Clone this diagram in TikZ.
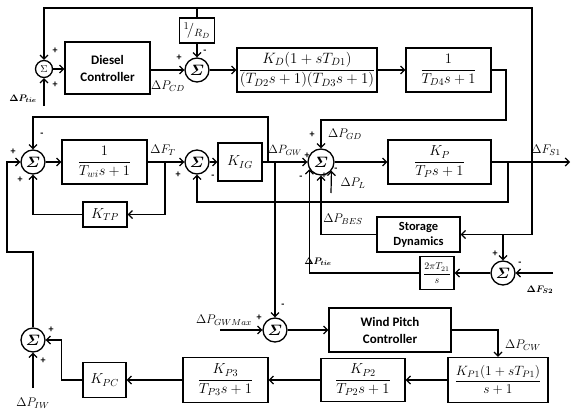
\RequirePackage{fix-cm}
\documentclass[tikz,border=0pt]{standalone}
\usepackage{amsmath,bm}
\usepackage{fontspec}
\newfontfamily\calib{Carlito}
\usetikzlibrary{arrows.meta,calc}
\begin{document}
\begin{tikzpicture}[x=1pt,y=-1pt,
  line width=1.2pt,
  >={Straight Barb[length=4pt,width=8pt]},
  blk/.style={draw, rectangle, inner sep=0pt, line width=1.3pt, font=\fontsize{14.5}{16}\selectfont},
  sumc/.style={draw, circle, inner sep=0pt, minimum size=24pt, line width=1.3pt, font=\fontsize{15}{17}\selectfont},
  sgn/.style={inner sep=0pt, font=\calib\bfseries\fontsize{10}{11}\selectfont},
  lbl/.style={inner sep=0pt, font=\fontsize{12.5}{15}\selectfont},
  blbl/.style={inner sep=0pt, font=\fontsize{9.5}{10}\selectfont},
  bt/.style={font=\calib\bfseries\fontsize{13}{17}\selectfont, align=center},
]
\useasboundingbox (0,0) rectangle (572,412);

% ---- row 1
\node[sumc, minimum size=17pt, font=\fontsize{10}{11}\selectfont] (s1) at (44,69) {$\Sigma$};
\node[blk, bt, minimum width=85pt, minimum height=52pt] (dc) at (107.5,68) {Diesel\\Controller};
\node[sumc] (s2) at (197,70) {$\boldsymbol{\varSigma}$};
\node[blk, minimum width=35pt, minimum height=25pt, font=\fontsize{15}{17}\selectfont] (rd) at (197,30.5) {${}^{1}\!/_{R_D}$};
\node[blk, minimum width=140pt, minimum height=44pt, font=\fontsize{15}{17}\selectfont] (kd) at (307,70) {$\dfrac{K_D(1+sT_{D1})}{(T_{D2}s+1)(T_{D3}s+1)}$};
\node[blk, minimum width=85pt, minimum height=44pt] (td4) at (448.5,70) {$\dfrac{1}{T_{D4}s+1}$};

% ---- row 2
\node[sumc] (s3) at (33,162) {$\boldsymbol{\varSigma}$};
\node[blk, minimum width=85pt, minimum height=44pt] (twi) at (104.5,162) {$\dfrac{1}{T_{wi}s+1}$};
\node[blk, minimum width=44pt, minimum height=25pt] (ktp) at (105,214.5) {$K_{TP}$};
\node[sumc] (s4) at (197,162) {$\boldsymbol{\varSigma}$};
\node[blk, minimum width=44pt, minimum height=38pt] (kig) at (240,162) {$K_{IG}$};
\node[sumc, minimum size=26pt] (sm) at (321,162) {$\boldsymbol{\varSigma}$};
\node[blk, minimum width=103pt, minimum height=44pt] (kp) at (439.5,162) {$\dfrac{K_P}{T_P s+1}$};
\node[blk, bt, minimum width=83pt, minimum height=35pt, font=\calib\bfseries\fontsize{12.5}{15}\selectfont] (stor) at (418.5,234.5) {Storage\\Dynamics};
\node[blk, minimum width=34pt, minimum height=33pt, font=\fontsize{10}{11}\selectfont] (tie) at (437,273) {$\dfrac{2\pi T_{21}}{s}$};
\node[sumc] (s7) at (503,273) {$\boldsymbol{\varSigma}$};

% ---- bottom
\node[sumc] (s6) at (275,330) {$\boldsymbol{\varSigma}$};
\node[blk, bt, minimum width=122pt, minimum height=44pt] (wpc) at (390,330) {Wind Pitch\\Controller};
\node[blk, minimum width=100pt, minimum height=45pt, font=\fontsize{13.5}{15}\selectfont] (kp1) at (498,380) {$\dfrac{K_{P1}(1+sT_{P1})}{s+1}$};
\node[blk, minimum width=84pt, minimum height=43pt] (kp2) at (363,380) {$\dfrac{K_{P2}}{T_{P2}s+1}$};
\node[blk, minimum width=85pt, minimum height=45pt] (kp3) at (225.5,380) {$\dfrac{K_{P3}}{T_{P3}s+1}$};
\node[blk, minimum width=43pt, minimum height=35pt] (kpc) at (104.5,380) {$K_{PC}$};
\node[sumc] (s5) at (33,340) {$\boldsymbol{\varSigma}$};

% ---- free ends
\coordinate (ptie1) at (44,106);
\coordinate (fs1) at (570,162);
\coordinate (pl) at (331,193);
\coordinate (fs2) at (553,273);
\coordinate (gwmax) at (220,330);
\coordinate (piw) at (33,388);

% ---- connectors row 1
\draw[->] (ptie1) -- (s1.south);
\draw[->] (s1.east) -- (s1.east -| dc.west);
\draw[->] (dc.east |- s2.west) -- (s2.west);
\draw[->] (rd.south) -- (s2.north);
\draw[->] (s2) -- (kd);
\draw[->] (kd) -- (td4);
\draw[->] (td4.east) -| (506,120) -| (sm.north);
\draw[->] (532,162) -- (532,8) -| (s1.north);
\draw (rd.north) -- (rd.north |- 0,8);

% ---- connectors row 2
\draw[->] (s5.north) -- (33,252) -- (7,252) |- (s3.west);
\draw[->] (s3) -- (twi);
\draw[->] (twi) -- (s4);
\draw[->] (165,162) |- (ktp.east);
\draw[->] (ktp.west) -| (s3.south);
\draw[->] (268,162) -- (268,117) -| (s3.north);
\draw[->] (s4) -- (kig);
\draw[->] (kig) -- (sm);
\draw[->] (275,162) -- (s6.north);
\draw[->] (sm) -- (kp);
\draw[->] (kp) -- (fs1);
\draw[->] (508,162) -- (508,202) -| (s4.south);
\draw[->] (532,162) |- (stor.east);
\draw[->] (503,234.5) -- (s7.north);
\draw[->] (stor.west) -| (sm.south);
\draw[->] (tie.west) -| (sm.212);
\draw[->] (pl) -- (sm.320);
\draw[->] (fs2) -- (s7.east);
\draw[->] (s7) -- (tie);

% ---- bottom connectors
\draw[->] (gwmax) -- (s6.west);
\draw[->] (s6) -- (wpc);
\draw[->] (wpc.east) -| (kp1.north);
\draw[->] (kp1) -- (kp2);
\draw[->] (kp2) -- (kp3);
\draw[->] (kp3) -- (kpc);
\draw[->] (kpc.west) -- ++(-21,0) |- (s5.east);
\draw[->] (piw) -- (s5.south);

% ---- signs
\node[sgn] at (55,51) {+};
\node[sgn] at (55,85) {+};
\node[sgn] at (179,58) {+};
\node[sgn] at (205,52) {-};
\node[sgn] at (13,152) {+};
\node[sgn] at (42,135) {-};
\node[sgn] at (20,180) {+};
\node[sgn] at (178,175) {+};
\node[sgn] at (213,177) {-};
\node[sgn] at (307,156) {+};
\node[sgn] at (312,135) {+};
\node[sgn] at (301,178) {-};
\node[sgn] at (324,176) {+};
\node[sgn] at (336,170) {-};
\node[sgn] at (495,254) {+};
\node[sgn] at (520,264) {-};
\node[sgn] at (259,318) {+};
\node[sgn] at (283,306) {-};
\node[sgn] at (51,330) {+};
\node[sgn] at (43,361) {+};

% ---- labels
\node[blbl] at (23,99) {$\bm{\Delta P_{tie}}$};
\node[lbl] at (168,86) {$\Delta P_{CD}$};
\node[lbl] at (163,150) {$\Delta F_{T}$};
\node[lbl, font=\fontsize{12}{14}\selectfont] at (285,150) {$\Delta P_{GW}$};
\node[lbl] at (345,134) {$\Delta P_{GD}$};
\node[lbl] at (353,183) {$\Delta P_{L}$};
\node[lbl] at (546,150) {$\Delta F_{S1}$};
\node[lbl] at (343,219) {$\Delta P_{BES}$};
\node[blbl] at (318,262) {$\bm{\Delta P_{tie}}$};
\node[blbl] at (540,290) {$\bm{\Delta F_{S2}}$};
\node[lbl] at (224,320) {$\Delta P_{GWMax}$};
\node[lbl] at (523,345) {$\Delta P_{CW}$};
\node[lbl] at (33,403) {$\Delta P_{IW}$};
\end{tikzpicture}
\end{document}
